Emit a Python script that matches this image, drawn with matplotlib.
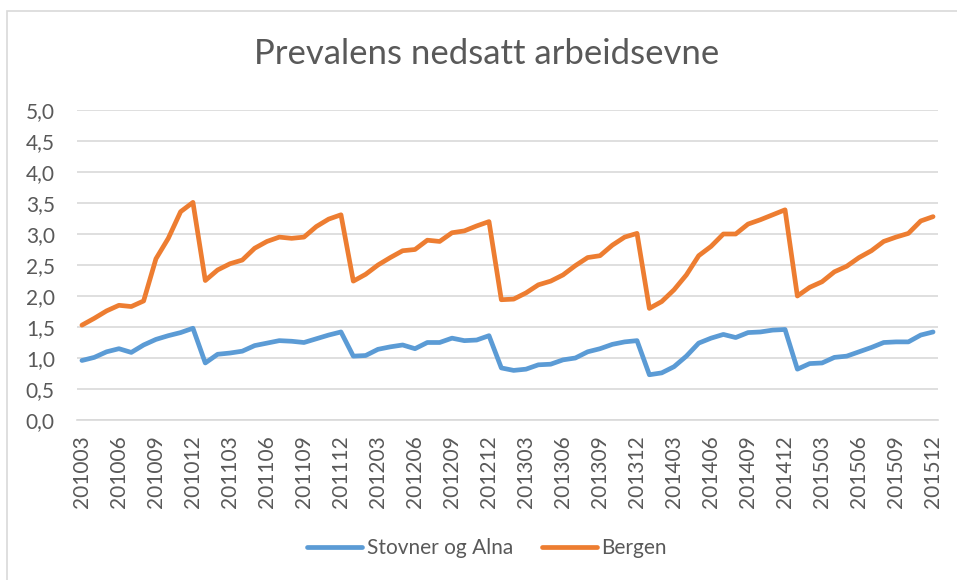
import numpy as np
import matplotlib
matplotlib.use("Agg")
import matplotlib.pyplot as plt
from matplotlib.patches import Rectangle
from matplotlib.ticker import FuncFormatter

plt.rcParams['font.family'] = ['Lato', 'DejaVu Sans']

# maaneder 201003 .. 201512
months = [f"{y}{m:02d}" for y in range(2010, 2016) for m in range(1, 13)][2:]

stovner_alna = [0.96, 1.01, 1.10, 1.15, 1.09, 1.21, 1.30, 1.36, 1.41, 1.48,
                0.92, 1.06, 1.08, 1.11, 1.20, 1.24, 1.28, 1.27, 1.25, 1.31,
                1.37, 1.42, 1.03, 1.04, 1.14, 1.18, 1.21, 1.15, 1.25, 1.25,
                1.32, 1.28, 1.29, 1.36, 0.84, 0.80, 0.82, 0.89, 0.90, 0.97,
                1.00, 1.10, 1.15, 1.22, 1.26, 1.28, 0.73, 0.76, 0.86, 1.03,
                1.24, 1.32, 1.38, 1.33, 1.41, 1.42, 1.45, 1.46, 0.82, 0.91,
                0.92, 1.01, 1.03, 1.10, 1.17, 1.25, 1.26, 1.26, 1.37, 1.42]

bergen = [1.53, 1.64, 1.76, 1.85, 1.83, 1.92, 2.60, 2.93, 3.36, 3.51,
          2.25, 2.42, 2.52, 2.58, 2.77, 2.88, 2.95, 2.93, 2.95, 3.12,
          3.24, 3.31, 2.24, 2.35, 2.50, 2.62, 2.73, 2.75, 2.90, 2.88,
          3.02, 3.05, 3.13, 3.20, 1.94, 1.95, 2.05, 2.18, 2.24, 2.34,
          2.49, 2.62, 2.65, 2.82, 2.95, 3.01, 1.80, 1.91, 2.10, 2.34,
          2.65, 2.80, 3.00, 3.00, 3.16, 3.23, 3.31, 3.39, 2.00, 2.14,
          2.23, 2.39, 2.48, 2.62, 2.73, 2.88, 2.95, 3.01, 3.21, 3.28]

BLUE = '#5B9BD5'
ORANGE = '#ED7D31'
TEXT = '#595959'
GRID = '#D9D9D9'

fig = plt.figure(figsize=(9.57, 5.8), dpi=100)
W, H = 957, 580

# ramme rundt diagrammet (bare topp og venstre synlig)
fig.patches.append(Rectangle((7 / W, -0.1), 1.2, (H - 11) / H + 0.1,
                             transform=fig.transFigure, fill=False,
                             edgecolor=GRID, linewidth=1.2))

ax = fig.add_axes([77 / W, (H - 420) / H, (938 - 77) / W, 310 / H])

x = np.arange(len(months))
ax.plot(x, stovner_alna, color=BLUE, linewidth=3.4, solid_capstyle='round',
        solid_joinstyle='round', label='Stovner og Alna')
ax.plot(x, bergen, color=ORANGE, linewidth=3.4, solid_capstyle='round',
        solid_joinstyle='round', label='Bergen')

ax.set_xlim(-0.4, len(months) - 0.6)
ax.set_ylim(0, 5)
ax.set_yticks(np.arange(0, 5.01, 0.5))
ax.yaxis.set_major_formatter(FuncFormatter(lambda v, p: f"{v:.1f}".replace('.', ',')))
ax.set_xticks(x[::3])
ax.set_xticklabels(months[::3], rotation=90)

ax.grid(axis='y', color=GRID, linewidth=1.2)
ax.set_axisbelow(True)
for s in ax.spines.values():
    s.set_visible(False)
ax.spines['bottom'].set_visible(True)
ax.spines['bottom'].set_color(GRID)
ax.spines['bottom'].set_linewidth(1.2)
ax.tick_params(axis='both', length=0, labelsize=15, colors=TEXT)
ax.tick_params(axis='y', pad=16)
ax.tick_params(axis='x', pad=11)

fig.text(487 / W, 1 - 54 / H, 'Prevalens nedsatt arbeidsevne', ha='center',
         va='center', fontsize=25, color=TEXT)

leg = fig.legend(loc='center', bbox_to_anchor=(487 / W, 1 - 548 / H), ncol=2,
                 frameon=False, fontsize=15, handlelength=2.64, handletextpad=0.2,
                 columnspacing=1.4)
for t in leg.get_texts():
    t.set_color(TEXT)

fig.savefig('out.png', dpi=100)
